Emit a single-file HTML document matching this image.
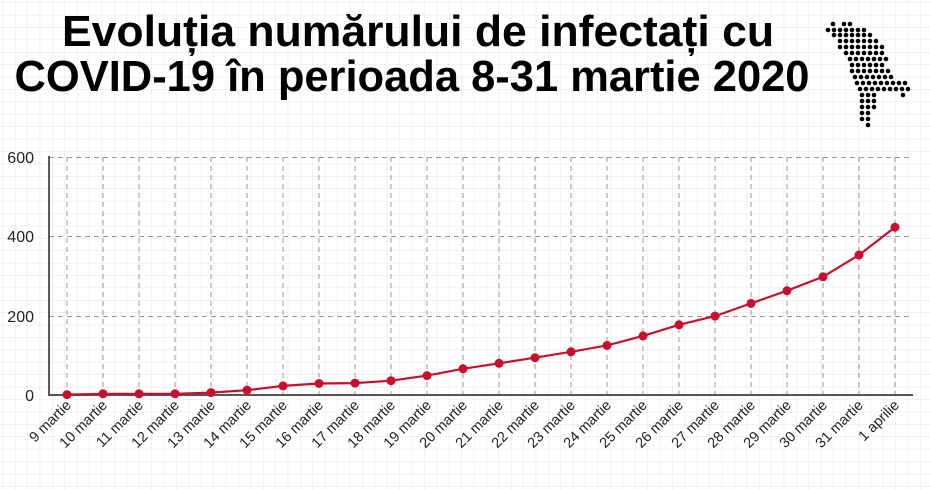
<!DOCTYPE html>
<html><head><meta charset="utf-8"><style>
html,body{margin:0;padding:0;background:#fff}
svg{display:block}
</style></head><body>
<svg width="930" height="489" viewBox="0 0 930 489" xmlns="http://www.w3.org/2000/svg">
<defs>
<pattern id="g" width="12.4" height="12.4" patternUnits="userSpaceOnUse" x="3" y="3">
<path d="M12.4 0V12.4M0 12.4H12.4" stroke="#e4e4e4" stroke-width="1" fill="none"/>
</pattern>
</defs>
<rect width="930" height="489" fill="#fff"/>
<rect width="930" height="489" fill="url(#g)"/>
<g font-family="'Liberation Sans Narrow','Liberation Sans',sans-serif" font-weight="bold" font-size="44" text-anchor="middle" fill="#000">
<text x="418" y="46" textLength="712" lengthAdjust="spacingAndGlyphs">Evoluția numărului de infectați cu</text>
<text x="412" y="91" textLength="795" lengthAdjust="spacingAndGlyphs">COVID-19 în perioada 8-31 martie 2020</text>
</g>
<g fill="#000">
<circle cx="833" cy="24" r="2.3"/><circle cx="844" cy="24" r="2.3"/><circle cx="850" cy="24" r="2.3"/>
</g>
<g fill="#000" id="map"></g>
<g stroke="#999" stroke-dasharray="5,4" stroke-width="1">
<line x1="49" y1="157.5" x2="913" y2="157.5"/><line x1="49" y1="236.5" x2="913" y2="236.5"/><line x1="49" y1="316.5" x2="913" y2="316.5"/>
<line x1="67" y1="157" x2="67" y2="395"/><line x1="103" y1="157" x2="103" y2="395"/><line x1="139" y1="157" x2="139" y2="395"/><line x1="175" y1="157" x2="175" y2="395"/><line x1="211" y1="157" x2="211" y2="395"/><line x1="247" y1="157" x2="247" y2="395"/><line x1="283" y1="157" x2="283" y2="395"/><line x1="319" y1="157" x2="319" y2="395"/><line x1="355" y1="157" x2="355" y2="395"/><line x1="391" y1="157" x2="391" y2="395"/><line x1="427" y1="157" x2="427" y2="395"/><line x1="463" y1="157" x2="463" y2="395"/><line x1="499" y1="157" x2="499" y2="395"/><line x1="535" y1="157" x2="535" y2="395"/><line x1="571" y1="157" x2="571" y2="395"/><line x1="607" y1="157" x2="607" y2="395"/><line x1="643" y1="157" x2="643" y2="395"/><line x1="679" y1="157" x2="679" y2="395"/><line x1="715" y1="157" x2="715" y2="395"/><line x1="751" y1="157" x2="751" y2="395"/><line x1="787" y1="157" x2="787" y2="395"/><line x1="823" y1="157" x2="823" y2="395"/><line x1="859" y1="157" x2="859" y2="395"/><line x1="895" y1="157" x2="895" y2="395"/>
</g>
<line x1="49" y1="156" x2="49" y2="396" stroke="#222" stroke-width="1.5"/>
<line x1="48" y1="395" x2="913" y2="395" stroke="#555" stroke-width="2"/>
<g font-family="'Liberation Sans',sans-serif" font-size="16" fill="#222" text-anchor="end">
<text x="34" y="163">600</text><text x="34" y="242">400</text><text x="34" y="322">200</text><text x="34" y="401">0</text>
</g>
<polyline fill="none" stroke="#c8102e" stroke-width="2.2" points="67,394.6 103,393.8 139,393.8 175,393.8 211,392.6 247,390.2 283,385.9 319,383.5 355,383.1 391,380.7 427,375.6 463,368.8 499,363.3 535,357.7 571,351.8 607,345.4 643,335.9 679,324.8 715,316.1 751,303.4 787,290.7 823,276.8 859,255 895,227.2"/>
<g fill="#c8102e">
<circle cx="67" cy="394.6" r="4.5"/><circle cx="103" cy="393.8" r="4.5"/><circle cx="139" cy="393.8" r="4.5"/><circle cx="175" cy="393.8" r="4.5"/><circle cx="211" cy="392.6" r="4.5"/><circle cx="247" cy="390.2" r="4.5"/><circle cx="283" cy="385.9" r="4.5"/><circle cx="319" cy="383.5" r="4.5"/><circle cx="355" cy="383.1" r="4.5"/><circle cx="391" cy="380.7" r="4.5"/><circle cx="427" cy="375.6" r="4.5"/><circle cx="463" cy="368.8" r="4.5"/><circle cx="499" cy="363.3" r="4.5"/><circle cx="535" cy="357.7" r="4.5"/><circle cx="571" cy="351.8" r="4.5"/><circle cx="607" cy="345.4" r="4.5"/><circle cx="643" cy="335.9" r="4.5"/><circle cx="679" cy="324.8" r="4.5"/><circle cx="715" cy="316.1" r="4.5"/><circle cx="751" cy="303.4" r="4.5"/><circle cx="787" cy="290.7" r="4.5"/><circle cx="823" cy="276.8" r="4.5"/><circle cx="859" cy="255" r="4.5"/><circle cx="895" cy="227.2" r="4.5"/>
</g>
<g font-family="'Liberation Sans',sans-serif" font-size="14.5" fill="#222" text-anchor="end">
<text transform="translate(72,406) rotate(-45)">9 martie</text>
<text transform="translate(108,406) rotate(-45)">10 martie</text>
<text transform="translate(144,406) rotate(-45)">11 martie</text>
<text transform="translate(180,406) rotate(-45)">12 martie</text>
<text transform="translate(216,406) rotate(-45)">13 martie</text>
<text transform="translate(252,406) rotate(-45)">14 martie</text>
<text transform="translate(288,406) rotate(-45)">15 martie</text>
<text transform="translate(324,406) rotate(-45)">16 martie</text>
<text transform="translate(360,406) rotate(-45)">17 martie</text>
<text transform="translate(396,406) rotate(-45)">18 martie</text>
<text transform="translate(432,406) rotate(-45)">19 martie</text>
<text transform="translate(468,406) rotate(-45)">20 martie</text>
<text transform="translate(504,406) rotate(-45)">21 martie</text>
<text transform="translate(540,406) rotate(-45)">22 martie</text>
<text transform="translate(576,406) rotate(-45)">23 martie</text>
<text transform="translate(612,406) rotate(-45)">24 martie</text>
<text transform="translate(648,406) rotate(-45)">25 martie</text>
<text transform="translate(684,406) rotate(-45)">26 martie</text>
<text transform="translate(720,406) rotate(-45)">27 martie</text>
<text transform="translate(756,406) rotate(-45)">28 martie</text>
<text transform="translate(792,406) rotate(-45)">29 martie</text>
<text transform="translate(828,406) rotate(-45)">30 martie</text>
<text transform="translate(864,406) rotate(-45)">31 martie</text>
<text transform="translate(900,406) rotate(-45)">1 aprilie</text>
</g>
<script>
var rows=[[30,828,868],[35,834,875],[41,840,881],[47,840,887],[53,846,887],[59,850,887],[65,852,887],[71,852,893],[77,855,893],[83,857,905],[89,860,910],[95,862,875],[101,862,875],[107,862,875],[113,862,873],[119,862,868],[125,868,868]];
var g=document.getElementById('map'),ns='http://www.w3.org/2000/svg';
rows.forEach(function(r){for(var x=r[1];x<=r[2]+0.5;x+=6){var c=document.createElementNS(ns,'circle');c.setAttribute('cx',x);c.setAttribute('cy',r[0]);c.setAttribute('r',2.3);g.appendChild(c);}});
var c=document.createElementNS(ns,'circle');c.setAttribute('cx',903);c.setAttribute('cy',95);c.setAttribute('r',2.3);g.appendChild(c);
</script>
</svg>
</body></html>
